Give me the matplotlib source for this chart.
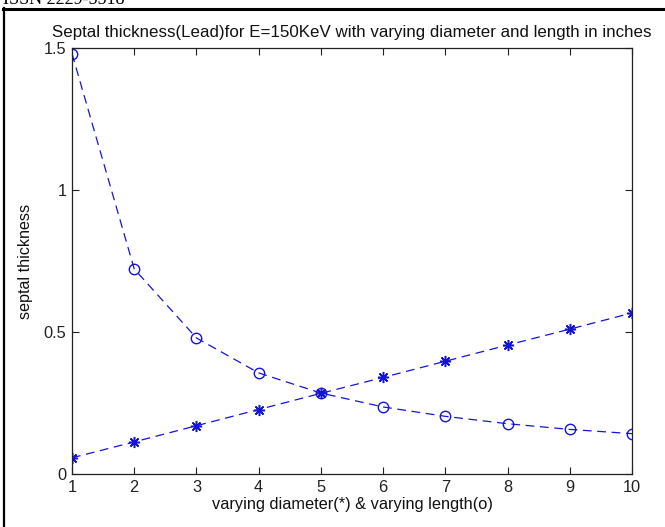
import matplotlib
matplotlib.use("Agg")
import matplotlib.pyplot as plt
from matplotlib.lines import Line2D

# values
x_values = [1, 2, 3, 4, 5, 6, 7, 8, 9, 10]
thickness_diameter = [0.057, 0.113, 0.170, 0.227, 0.284, 0.340, 0.397, 0.454, 0.510, 0.567]
thickness_length = [1.48, 0.722, 0.479, 0.356, 0.285, 0.236, 0.203, 0.177, 0.157, 0.142]
y_ticks = [0, 0.5, 1, 1.5]
y_tick_labels = ["0", "0.5", "1", "1.5"]

W, H = 665, 527
plt.rcParams["font.family"] = ["Liberation Sans", "DejaVu Sans"]

fig = plt.figure(figsize=(W / 100, H / 100), dpi=100)
ax = fig.add_axes([72 / W, (H - 474) / H, 560 / W, 426 / H])

line_kw = dict(color="#1414d8", linewidth=0.9, dashes=(7, 4.5))
ax.plot(x_values, thickness_diameter, marker=(8, 2, 0), markersize=8,
        markeredgewidth=1.1, **line_kw)
ax.plot(x_values, thickness_length, marker="o", markersize=7.5,
        markerfacecolor="none", markeredgewidth=1.0, **line_kw)

ax.set_xlim(1, 10)
ax.set_ylim(0, 1.5)
ax.set_xticks(x_values)
ax.set_yticks(y_ticks, y_tick_labels)
ax.tick_params(direction="in", length=5, width=0.8, top=True, right=True,
               labelsize=11.8, colors="#222222", pad=4)
for spine in ax.spines.values():
    spine.set_linewidth(0.9)
    spine.set_color("#222222")

ax.set_title("Septal thickness(Lead)for E=150KeV with varying diameter and length in inches",
             fontsize=12.2, pad=8, color="#111111")
ax.set_xlabel("varying diameter(*) & varying length(o)", fontsize=11.8, labelpad=2,
              color="#111111")
ax.set_ylabel("septal thickness", fontsize=11.6, labelpad=8, color="#111111")

# page border and clipped header text from the source document
fig.add_artist(Line2D([3 / W, 1.0], [1 - 9 / H, 1 - 9 / H], color="black", linewidth=2.2))
fig.add_artist(Line2D([4 / W, 4 / W], [0.0, 1 - 8 / H], color="black", linewidth=1.6))
fig.text(3 / W, 1 - 4 / H, "ISSN 2229-5518", fontsize=13, va="baseline",
         family=["Liberation Serif", "DejaVu Serif"])

fig.savefig("out.png", dpi=100)
